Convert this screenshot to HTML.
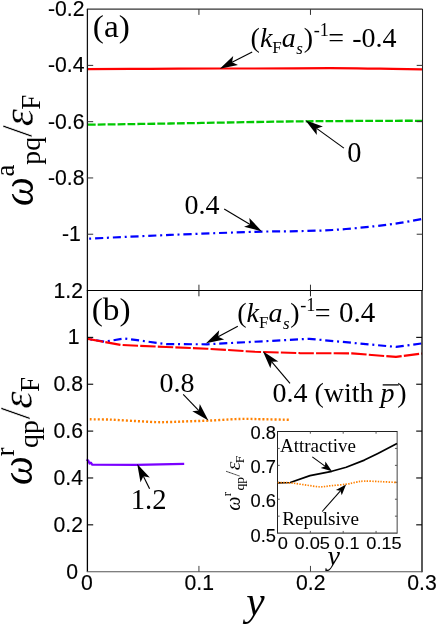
<!DOCTYPE html>
<html><head><meta charset="utf-8"><title>figure</title>
<style>html,body{margin:0;padding:0;background:#fff;}svg{display:block;}</style>
</head><body>
<svg width="436" height="626" viewBox="0 0 436 626" style="will-change:transform" stroke-linejoin="round">
<rect width="436" height="626" fill="#fff"/>
<g id="ticklabels">
<text transform="translate(84.50,16.20) scale(1.0,1)" text-anchor="end" font-family='"Liberation Sans", sans-serif' font-size="21.2" fill="#000" stroke="#000" stroke-width="0.15">-0.2</text>
<text transform="translate(84.50,72.48) scale(1.0,1)" text-anchor="end" font-family='"Liberation Sans", sans-serif' font-size="21.2" fill="#000" stroke="#000" stroke-width="0.15">-0.4</text>
<text transform="translate(84.50,128.76) scale(1.0,1)" text-anchor="end" font-family='"Liberation Sans", sans-serif' font-size="21.2" fill="#000" stroke="#000" stroke-width="0.15">-0.6</text>
<text transform="translate(84.50,185.04) scale(1.0,1)" text-anchor="end" font-family='"Liberation Sans", sans-serif' font-size="21.2" fill="#000" stroke="#000" stroke-width="0.15">-0.8</text>
<text transform="translate(80.80,241.32) scale(1.0,1)" text-anchor="end" font-family='"Liberation Sans", sans-serif' font-size="21.2" fill="#000" stroke="#000" stroke-width="0.15">-1</text>
<text transform="translate(83.00,297.50) scale(1.0,1)" text-anchor="end" font-family='"Liberation Sans", sans-serif' font-size="21.2" fill="#000" stroke="#000" stroke-width="0.15">1.2</text>
<text transform="translate(79.60,344.37) scale(1.0,1)" text-anchor="end" font-family='"Liberation Sans", sans-serif' font-size="21.2" fill="#000" stroke="#000" stroke-width="0.15">1</text>
<text transform="translate(83.00,391.23) scale(1.0,1)" text-anchor="end" font-family='"Liberation Sans", sans-serif' font-size="21.2" fill="#000" stroke="#000" stroke-width="0.15">0.8</text>
<text transform="translate(83.00,438.10) scale(1.0,1)" text-anchor="end" font-family='"Liberation Sans", sans-serif' font-size="21.2" fill="#000" stroke="#000" stroke-width="0.15">0.6</text>
<text transform="translate(83.00,484.97) scale(1.0,1)" text-anchor="end" font-family='"Liberation Sans", sans-serif' font-size="21.2" fill="#000" stroke="#000" stroke-width="0.15">0.4</text>
<text transform="translate(83.00,531.83) scale(1.0,1)" text-anchor="end" font-family='"Liberation Sans", sans-serif' font-size="21.2" fill="#000" stroke="#000" stroke-width="0.15">0.2</text>
<text transform="translate(78.00,578.70) scale(1.0,1)" text-anchor="end" font-family='"Liberation Sans", sans-serif' font-size="21.2" fill="#000" stroke="#000" stroke-width="0.15">0</text>
<text transform="translate(87.00,590.40) scale(1.0,1)" text-anchor="middle" font-family='"Liberation Sans", sans-serif' font-size="21.2" fill="#000" stroke="#000" stroke-width="0.15">0</text>
<text transform="translate(199.20,590.40) scale(1.0,1)" text-anchor="middle" font-family='"Liberation Sans", sans-serif' font-size="21.2" fill="#000" stroke="#000" stroke-width="0.15">0.1</text>
<text transform="translate(310.80,590.40) scale(1.0,1)" text-anchor="middle" font-family='"Liberation Sans", sans-serif' font-size="21.2" fill="#000" stroke="#000" stroke-width="0.15">0.2</text>
<text transform="translate(422.00,590.40) scale(1.0,1)" text-anchor="middle" font-family='"Liberation Sans", sans-serif' font-size="21.2" fill="#000" stroke="#000" stroke-width="0.15">0.3</text>
</g>
<g id="curves-a" stroke-linecap="butt">
<path d="M88.00,69.20 C98.33,69.13 128.00,68.92 150.00,68.80 C172.00,68.68 202.50,68.55 220.00,68.50 C237.50,68.45 236.67,68.55 255.00,68.50 C273.33,68.45 309.17,68.17 330.00,68.20 C350.83,68.23 364.67,68.52 380.00,68.70 C395.33,68.88 415.00,69.20 422.00,69.30" fill="none" stroke="#ff0000" stroke-width="2.2"  />
<path d="M88.00,124.70 C101.67,124.50 142.17,123.95 170.00,123.50 C197.83,123.05 232.50,122.37 255.00,122.00 C277.50,121.63 282.50,121.50 305.00,121.30 C327.50,121.10 370.50,120.88 390.00,120.80 C409.50,120.72 416.67,120.80 422.00,120.80" fill="none" stroke="#00c800" stroke-width="2.3" stroke-dasharray="7.8 2.1" stroke-dashoffset="0" />
<path d="M88.00,238.70 C101.67,238.07 142.17,236.05 170.00,234.90 C197.83,233.75 235.00,232.40 255.00,231.80 C275.00,231.20 277.07,231.60 290.00,231.30 C302.93,231.00 318.62,230.83 332.60,230.00 C346.58,229.17 362.67,227.48 373.90,226.30 C385.13,225.12 391.98,224.13 400.00,222.90 C408.02,221.67 418.33,219.57 422.00,218.90" fill="none" stroke="#0000ff" stroke-width="2.2" stroke-dasharray="8.1 3.8 2.0 3.8" stroke-dashoffset="10.5" />
</g>
<g id="curves-b" stroke-linecap="butt">
<polyline points="88.00,338.90 104.50,341.70 124.30,338.50 166.50,344.10 207.00,344.30 309.30,338.80 396.00,346.90 422.00,343.40" fill="none" stroke="#0000ff" stroke-width="2.2" stroke-dasharray="8.1 3.8 2.0 3.8" stroke-dashoffset="9.5" stroke-linejoin="round"/>
<polyline points="88.00,338.90 121.00,345.00 166.00,347.00 207.00,348.70 255.00,351.80 300.00,353.10 352.00,353.40 396.00,356.90 422.00,353.50" fill="none" stroke="#ff0000" stroke-width="2.1" stroke-dasharray="15.4 2.2" stroke-dashoffset="0" stroke-linejoin="round"/>
<path d="M89.80,419.30 C93.17,419.35 102.80,419.33 110.00,419.60 C117.20,419.87 125.40,420.48 133.00,420.90 C140.60,421.32 149.43,421.92 155.60,422.10 C161.77,422.28 165.10,422.12 170.00,422.00 C174.90,421.88 178.50,421.63 185.00,421.40 C191.50,421.17 200.58,420.98 209.00,420.60 C217.42,420.22 228.67,419.38 235.50,419.10 C242.33,418.82 245.80,418.88 250.00,418.90 C254.20,418.92 254.05,419.05 260.70,419.20 C267.35,419.35 285.03,419.70 289.90,419.80" fill="none" stroke="#ff8000" stroke-width="2.4" stroke-dasharray="2 2.02" stroke-dashoffset="0" />
<polyline points="86.40,459.80 88.30,460.60 89.60,463.60 90.90,462.60 92.20,464.70 137.00,464.80 160.00,464.40 184.20,463.80" fill="none" stroke="#7a00ff" stroke-width="2.2"  />
</g>
<g id="axes-a">
<line x1="86.90" y1="9.20" x2="422.50" y2="9.20" stroke="#333" stroke-width="1.25" />
<line x1="87.40" y1="9.10" x2="87.40" y2="290.50" stroke="#111" stroke-width="1.25" />
<line x1="422.50" y1="9.10" x2="422.50" y2="290.50" stroke="#222" stroke-width="1.05" />
<line x1="198.93" y1="9.10" x2="198.93" y2="14.90" stroke="#333" stroke-width="1" />
<line x1="198.93" y1="290.50" x2="198.93" y2="284.70" stroke="#333" stroke-width="1" />
<line x1="310.47" y1="9.10" x2="310.47" y2="14.90" stroke="#333" stroke-width="1" />
<line x1="310.47" y1="290.50" x2="310.47" y2="284.70" stroke="#333" stroke-width="1" />
<line x1="87.40" y1="65.38" x2="93.20" y2="65.38" stroke="#333" stroke-width="1" />
<line x1="422.50" y1="65.38" x2="416.70" y2="65.38" stroke="#333" stroke-width="1" />
<line x1="87.40" y1="121.66" x2="93.20" y2="121.66" stroke="#333" stroke-width="1" />
<line x1="422.50" y1="121.66" x2="416.70" y2="121.66" stroke="#333" stroke-width="1" />
<line x1="87.40" y1="177.94" x2="93.20" y2="177.94" stroke="#333" stroke-width="1" />
<line x1="422.50" y1="177.94" x2="416.70" y2="177.94" stroke="#333" stroke-width="1" />
<line x1="87.40" y1="234.22" x2="93.20" y2="234.22" stroke="#333" stroke-width="1" />
<line x1="422.50" y1="234.22" x2="416.70" y2="234.22" stroke="#333" stroke-width="1" />
</g>
<g id="axes-b">
<line x1="86.80" y1="290.50" x2="422.60" y2="290.50" stroke="#000" stroke-width="1.2" />
<line x1="87.40" y1="290.50" x2="87.40" y2="571.70" stroke="#000" stroke-width="1.3" />
<line x1="422.00" y1="290.50" x2="422.00" y2="572.20" stroke="#000" stroke-width="1.3" />
<line x1="86.80" y1="571.70" x2="422.00" y2="571.70" stroke="#555" stroke-width="1.1" />
<line x1="198.93" y1="290.50" x2="198.93" y2="296.30" stroke="#222" stroke-width="1" />
<line x1="198.93" y1="571.70" x2="198.93" y2="565.90" stroke="#444" stroke-width="1" />
<line x1="310.47" y1="290.50" x2="310.47" y2="296.30" stroke="#222" stroke-width="1" />
<line x1="310.47" y1="571.70" x2="310.47" y2="565.90" stroke="#444" stroke-width="1" />
<line x1="87.40" y1="337.37" x2="93.20" y2="337.37" stroke="#000" stroke-width="1.1" />
<line x1="422.00" y1="337.37" x2="416.20" y2="337.37" stroke="#000" stroke-width="1.1" />
<line x1="87.40" y1="384.23" x2="93.20" y2="384.23" stroke="#000" stroke-width="1.1" />
<line x1="422.00" y1="384.23" x2="416.20" y2="384.23" stroke="#000" stroke-width="1.1" />
<line x1="87.40" y1="431.10" x2="93.20" y2="431.10" stroke="#000" stroke-width="1.1" />
<line x1="422.00" y1="431.10" x2="416.20" y2="431.10" stroke="#000" stroke-width="1.1" />
<line x1="87.40" y1="477.97" x2="93.20" y2="477.97" stroke="#000" stroke-width="1.1" />
<line x1="422.00" y1="477.97" x2="416.20" y2="477.97" stroke="#000" stroke-width="1.1" />
<line x1="87.40" y1="524.83" x2="93.20" y2="524.83" stroke="#000" stroke-width="1.1" />
<line x1="422.00" y1="524.83" x2="416.20" y2="524.83" stroke="#000" stroke-width="1.1" />
</g>
<g id="inset">
<line x1="277.50" y1="431.00" x2="277.50" y2="533.60" stroke="#222" stroke-width="1" />
<line x1="397.15" y1="431.00" x2="397.15" y2="533.60" stroke="#444" stroke-width="1" />
<line x1="277.50" y1="431.50" x2="397.15" y2="431.50" stroke="#222" stroke-width="1" />
<line x1="277.50" y1="533.10" x2="397.15" y2="533.10" stroke="#444" stroke-width="1.1" />
<line x1="277.50" y1="448.43" x2="279.70" y2="448.43" stroke="#555" stroke-width="1" />
<line x1="397.15" y1="448.43" x2="394.95" y2="448.43" stroke="#555" stroke-width="1" />
<line x1="277.50" y1="465.37" x2="279.70" y2="465.37" stroke="#555" stroke-width="1" />
<line x1="397.15" y1="465.37" x2="394.95" y2="465.37" stroke="#555" stroke-width="1" />
<line x1="277.50" y1="482.30" x2="279.70" y2="482.30" stroke="#555" stroke-width="1" />
<line x1="397.15" y1="482.30" x2="394.95" y2="482.30" stroke="#555" stroke-width="1" />
<line x1="277.50" y1="499.23" x2="279.70" y2="499.23" stroke="#555" stroke-width="1" />
<line x1="397.15" y1="499.23" x2="394.95" y2="499.23" stroke="#555" stroke-width="1" />
<line x1="277.50" y1="516.17" x2="279.70" y2="516.17" stroke="#555" stroke-width="1" />
<line x1="397.15" y1="516.17" x2="394.95" y2="516.17" stroke="#555" stroke-width="1" />
<line x1="310.35" y1="431.50" x2="310.35" y2="433.70" stroke="#555" stroke-width="1" />
<line x1="310.35" y1="533.10" x2="310.35" y2="530.90" stroke="#555" stroke-width="1" />
<line x1="343.20" y1="431.50" x2="343.20" y2="433.70" stroke="#555" stroke-width="1" />
<line x1="343.20" y1="533.10" x2="343.20" y2="530.90" stroke="#555" stroke-width="1" />
<line x1="376.05" y1="431.50" x2="376.05" y2="433.70" stroke="#555" stroke-width="1" />
<line x1="376.05" y1="533.10" x2="376.05" y2="530.90" stroke="#555" stroke-width="1" />
<polyline points="277.80,482.90 290.30,482.50 310.00,475.60 331.80,471.30 346.20,467.20 364.40,460.10 377.90,453.40 397.00,443.50" fill="none" stroke="#000" stroke-width="1.7"  stroke-linejoin="round"/>
<path d="M277.80,482.60 C279.92,482.65 285.97,482.52 290.50,482.90 C295.03,483.28 300.13,484.25 305.00,484.90 C309.87,485.55 315.20,486.68 319.70,486.80 C324.20,486.92 327.58,486.03 332.00,485.60 C336.42,485.17 342.20,484.77 346.20,484.20 C350.20,483.63 352.97,482.72 356.00,482.20 C359.03,481.68 360.40,481.20 364.40,481.10 C368.40,481.00 374.57,481.37 380.00,481.60 C385.43,481.83 394.17,482.35 397.00,482.50" fill="none" stroke="#ff8000" stroke-width="1.7" stroke-dasharray="1.4 1.32" stroke-dashoffset="0" />
<text transform="translate(276.00,439.00) scale(1.04,1)" text-anchor="end" font-family='"Liberation Sans", sans-serif' font-size="17.6" fill="#000" stroke="#000" stroke-width="0.12">0.8</text>
<text transform="translate(276.00,473.00) scale(1.04,1)" text-anchor="end" font-family='"Liberation Sans", sans-serif' font-size="17.6" fill="#000" stroke="#000" stroke-width="0.12">0.7</text>
<text transform="translate(276.00,507.40) scale(1.04,1)" text-anchor="end" font-family='"Liberation Sans", sans-serif' font-size="17.6" fill="#000" stroke="#000" stroke-width="0.12">0.6</text>
<text transform="translate(276.00,541.70) scale(1.04,1)" text-anchor="end" font-family='"Liberation Sans", sans-serif' font-size="17.6" fill="#000" stroke="#000" stroke-width="0.12">0.5</text>
<text transform="translate(282.70,549.20) scale(1.06,1)" text-anchor="middle" font-family='"Liberation Sans", sans-serif' font-size="17.2" fill="#000" stroke="#000" stroke-width="0.12">0</text>
<text transform="translate(312.20,549.20) scale(1.06,1)" text-anchor="middle" font-family='"Liberation Sans", sans-serif' font-size="17.2" fill="#000" stroke="#000" stroke-width="0.12">0.05</text>
<text transform="translate(347.00,549.20) scale(1.06,1)" text-anchor="middle" font-family='"Liberation Sans", sans-serif' font-size="17.2" fill="#000" stroke="#000" stroke-width="0.12">0.1</text>
<text transform="translate(384.00,549.20) scale(1.06,1)" text-anchor="middle" font-family='"Liberation Sans", sans-serif' font-size="17.2" fill="#000" stroke="#000" stroke-width="0.12">0.15</text>
<text x="280.00" y="452.40" text-anchor="start" font-family='"Liberation Serif", serif' font-size="19" fill="#000" >Attractive</text>
<text x="282.20" y="525.40" text-anchor="start" font-family='"Liberation Serif", serif' font-size="19.2" fill="#000" >Repulsive</text>
<line x1="312.30" y1="456.80" x2="324.99" y2="466.19" stroke="#000" stroke-width="1.05" />
<polygon points="331.90,471.30 325.38,461.62 324.99,466.19 320.74,467.89" fill="#000"/>
<line x1="322.20" y1="511.50" x2="340.41" y2="490.85" stroke="#000" stroke-width="1.05" />
<polygon points="346.10,484.40 335.90,490.07 340.41,490.85 341.75,495.23" fill="#000"/>
<text x="327.40" y="565.00" text-anchor="start" font-family='"Liberation Serif", serif' font-size="28" fill="#000" font-style="italic">y</text>
</g>
<g id="annot">
<text transform="translate(92.8,37.3) scale(1.06,1)" font-family='"Liberation Serif", serif' font-size="31.5" fill="#000">(a)</text>
<text transform="translate(91.7,319.8) scale(1.06,1)" font-family='"Liberation Serif", serif' font-size="31.5" fill="#000">(b)</text>
<text x="250.60" y="47.00" font-family='"Liberation Serif", serif' font-size="28" fill="#000">(<tspan font-style="italic">k</tspan><tspan font-size="17" dy="5.6">F</tspan><tspan font-style="italic" dy="-5.6">a</tspan><tspan font-style="italic" font-size="17" dy="6.6" dx="0.5">s</tspan><tspan dy="-6.6" dx="0.8">)</tspan><tspan font-size="18.2" dy="-11.2" dx="0.6">-1</tspan><tspan dy="11.2" dx="-0.6">=</tspan><tspan dx="1.2" font-size="28"> -0.4</tspan></text>
<text x="237.20" y="322.10" font-family='"Liberation Serif", serif' font-size="28" fill="#000">(<tspan font-style="italic">k</tspan><tspan font-size="17" dy="5.6">F</tspan><tspan font-style="italic" dy="-5.6">a</tspan><tspan font-style="italic" font-size="17" dy="6.6" dx="0.5">s</tspan><tspan dy="-6.6" dx="0.8">)</tspan><tspan font-size="18.2" dy="-11.2" dx="0.6">-1</tspan><tspan dy="11.2" dx="-0.6">=</tspan><tspan dx="1.0" font-size="29.0"> 0.4</tspan></text>
<text x="347.30" y="162.40" text-anchor="start" font-family='"Liberation Serif", serif' font-size="28.4" fill="#000" >0</text>
<text x="184.40" y="214.40" text-anchor="start" font-family='"Liberation Serif", serif' font-size="28" fill="#000" >0.4</text>
<text x="159.60" y="392.00" text-anchor="start" font-family='"Liberation Serif", serif' font-size="28" fill="#000" >0.8</text>
<text x="130.70" y="508.70" text-anchor="start" font-family='"Liberation Serif", serif' font-size="28.6" fill="#000" >1.2</text>
<text x="272.5" y="402.4" font-family='"Liberation Serif", serif' font-size="28" fill="#000">0.4 (with <tspan font-style="italic">p</tspan><tspan x="397.3">)</tspan></text>
<line x1="382.70" y1="384.90" x2="398.80" y2="384.90" stroke="#000" stroke-width="1.3" />
<line x1="252.20" y1="51.90" x2="232.05" y2="62.35" stroke="#000" stroke-width="1.15" />
<polygon points="219.80,68.70 238.00,65.12 232.05,62.35 233.21,55.89" fill="#000"/>
<line x1="343.90" y1="148.10" x2="316.59" y2="128.38" stroke="#000" stroke-width="1.15" />
<polygon points="305.40,120.30 316.79,134.94 316.59,128.38 322.88,126.50" fill="#000"/>
<line x1="224.20" y1="209.10" x2="250.11" y2="224.39" stroke="#000" stroke-width="1.15" />
<polygon points="262.00,231.40 249.31,217.88 250.11,224.39 244.03,226.83" fill="#000"/>
<line x1="237.80" y1="326.20" x2="218.15" y2="336.76" stroke="#000" stroke-width="1.15" />
<polygon points="206.00,343.30 224.14,339.45 218.15,336.76 219.21,330.29" fill="#000"/>
<line x1="290.00" y1="383.40" x2="271.79" y2="361.76" stroke="#000" stroke-width="1.15" />
<polygon points="262.90,351.20 270.38,368.17 271.79,361.76 278.34,361.47" fill="#000"/>
<line x1="183.20" y1="394.40" x2="198.81" y2="410.57" stroke="#000" stroke-width="1.15" />
<polygon points="208.40,420.50 199.78,404.08 198.81,410.57 192.30,411.31" fill="#000"/>
<line x1="149.60" y1="488.70" x2="143.37" y2="476.24" stroke="#000" stroke-width="1.15" />
<polygon points="137.20,463.90 140.51,482.15 143.37,476.24 149.81,477.50" fill="#000"/>
</g>
<text transform="translate(246.3,615.2) scale(1.0,1)" font-family='"Liberation Serif", serif' font-style="italic" font-size="41.4" fill="#000">y</text>
<g transform="translate(33.00,206.00) rotate(-90) scale(1.0)"><text x="0" y="0" font-family='"Liberation Serif", serif' font-size="44" fill="#000"><tspan font-style="italic" textLength="28.9" lengthAdjust="spacingAndGlyphs">ω</tspan><tspan font-size="26.5" dy="-19.2" dx="0.6">a</tspan><tspan font-size="26.5" dy="26.00" dx="0.1" textLength="27.8" lengthAdjust="spacingAndGlyphs">pq</tspan><tspan dy="-8.30" dx="-0.4" stroke="#fff" stroke-width="0.6">/</tspan><tspan font-style="italic" dy="1.5" dx="-1.2" stroke="#fff" stroke-width="0.3">ε</tspan><tspan font-size="27" dy="6.9" dx="-0.8">F</tspan></text></g>
<g transform="translate(31.60,485.00) rotate(-90) scale(1.0)"><text x="0" y="0" font-family='"Liberation Serif", serif' font-size="44" fill="#000"><tspan font-style="italic" textLength="28.9" lengthAdjust="spacingAndGlyphs">ω</tspan><tspan font-size="26.5" dy="-17.8" dx="-0.1">r</tspan><tspan font-size="26.5" dy="24.60" dx="-0.6" textLength="27.8" lengthAdjust="spacingAndGlyphs">qp</tspan><tspan dy="-8.30" dx="0.6" stroke="#fff" stroke-width="0.6">/</tspan><tspan font-style="italic" dy="1.5" dx="-1.3" stroke="#fff" stroke-width="0.3">ε</tspan><tspan font-size="27" dy="6.9" dx="-0.8">F</tspan></text></g>
<g transform="translate(240.30,510.80) rotate(-90) scale(0.493)"><text x="0" y="0" font-family='"Liberation Serif", serif' font-size="44" fill="#000"><tspan font-style="italic" textLength="28.9" lengthAdjust="spacingAndGlyphs">ω</tspan><tspan font-size="26.5" dy="-19.0" dx="0.5">r</tspan><tspan font-size="26.5" dy="25.80" dx="2.8" textLength="27.8" lengthAdjust="spacingAndGlyphs">qp</tspan><tspan dy="-8.30" dx="0.2" stroke="#fff" stroke-width="0.6">/</tspan><tspan font-style="italic" dy="1.5" dx="0.9" stroke="#fff" stroke-width="0.3">ε</tspan><tspan font-size="27" dy="6.9" dx="-3.0">F</tspan></text></g>
</svg>
</body></html>
